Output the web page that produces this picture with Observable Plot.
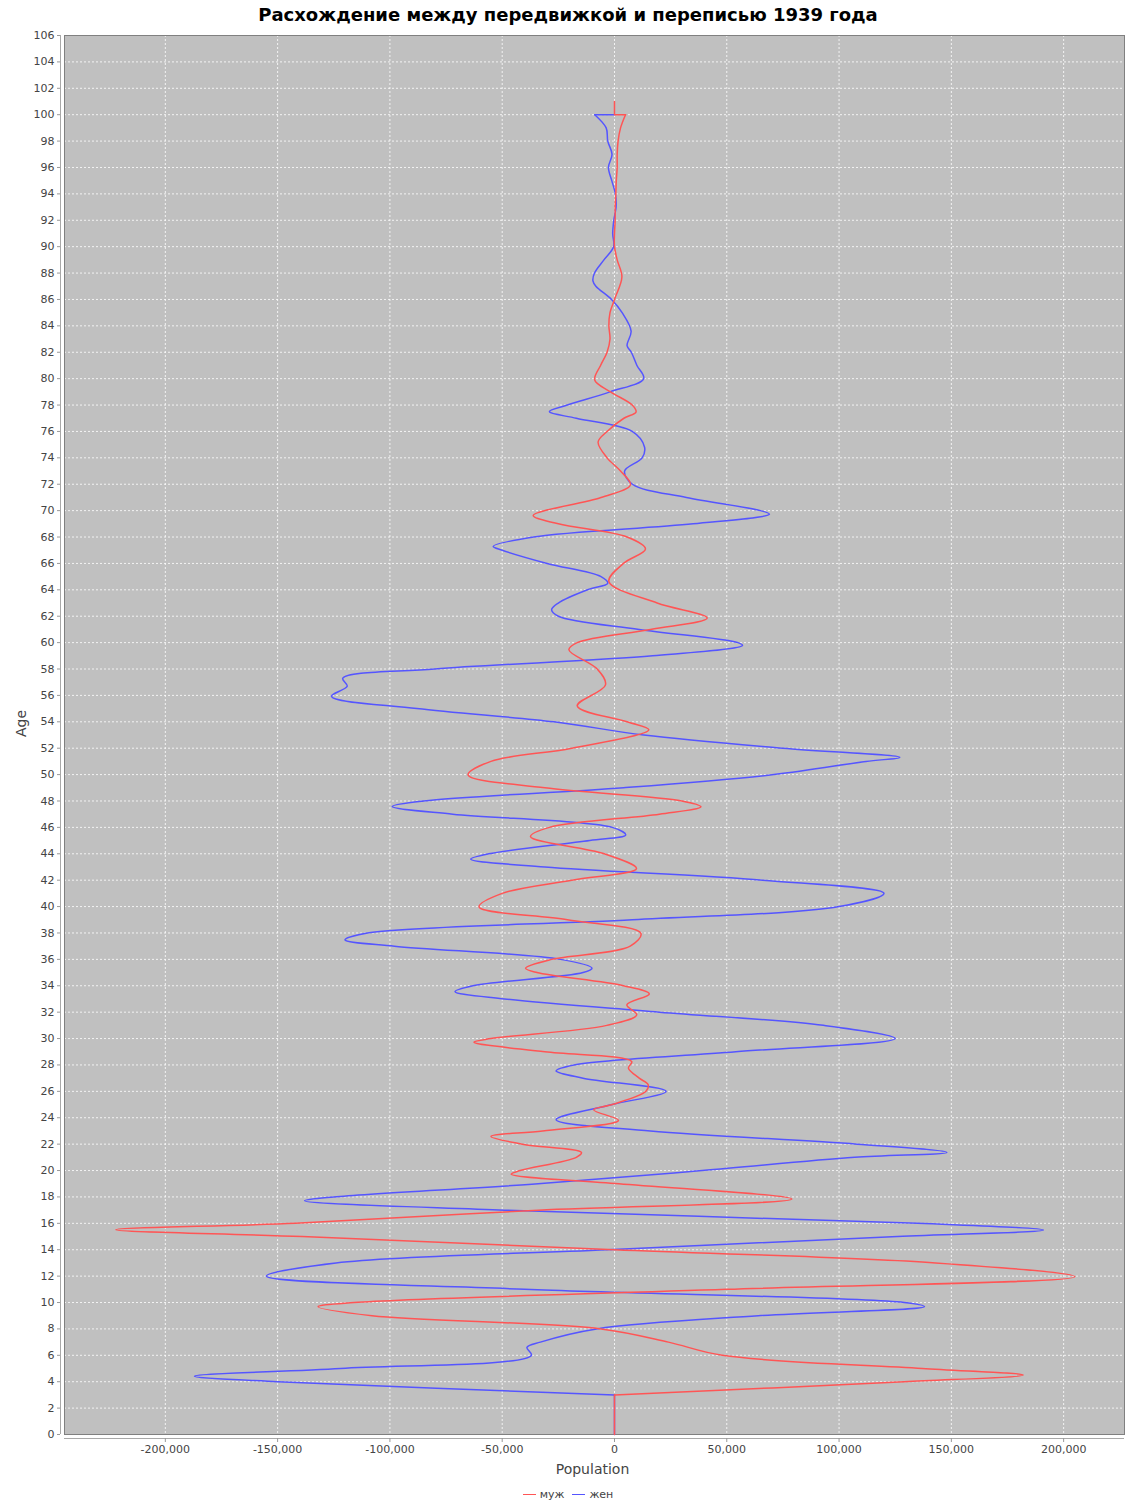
<!DOCTYPE html>
<html>
<head>
<meta charset="utf-8">
<script src="https://cdn.jsdelivr.net/npm/d3@7"></script>
<script src="https://cdn.jsdelivr.net/npm/@observablehq/plot@0.6"></script>
<style>
  body { margin: 0; background: #fff; font-family: "DejaVu Sans", sans-serif; }
  #title { height: 28px; line-height: 30px; text-align: center; font-weight: bold; font-size: 18px; color: #000; }
  #chart svg { display: block; }
  #legend { height: 25px; display: flex; justify-content: center; align-items: center; font-size: 11px; color: #444; }
  .item { display: flex; align-items: center; margin: 0 4px; }
  .sw { width: 13px; height: 1.5px; margin-right: 4px; }
</style>
</head>
<body>
<div id="title">Расхождение между передвижкой и переписью 1939 года</div>
<div id="chart"></div>
<div id="legend"></div>
<script>
// ---- data (population difference, thousands) ----
const seriesNames = ["муж", "жен"];
const seriesColors = ["#ff5555", "#5555ff"];

const ageTicks = d3.range(0, 107, 2);
const popTicks = [-200000, -150000, -100000, -50000, 0, 50000, 100000, 150000, 200000];

const maleAges = [3,4,4.5,5,6,7,8,9,9.69,10,11,11.96,13,14,15,15.52,16,17,17.84,19,19.73,20,21,21.37,22,22.58,23,23.8,24.6,25,26,26.5,27,27.76,28.26,29,29.73,30,31,31.8,32.55,33.38,34,35,35.33,36,37,37.96,39,39.98,41,42,42.88,44,45.3,46,47,47.56,48,49,49.98,51,52,53.4,54,55.2,56.8,58,59.46,60,61,61.86,63,64.63,66,67.1,68,69,69.63,71,71.95,73,74,75.2,76,77,77.47,78,79,79.9,81,82,83,84,85,86,87.7,89,90,91,92,93,94,95,96,97,98,99,100];
const maleValues = [0,129,182,137,48,24,-6,-108,-132,-116,50,205,143,0,-139,-222,-142,-34,79,2,-46,-42,-17,-14.7,-41,-55,-32,1.8,-9.3,-1,14,15,11,6.2,7.7,-31,-62.6,-55,-3.4,9.9,5.5,15.5,4,-34.5,-39.6,-28,7,11.8,-21,-60.3,-50,-19,9.8,-4.6,-37.4,-29,20,38.5,30,-31,-65.2,-55,-19,15.3,5.6,-16.6,-4,-7.7,-20.3,-16.6,16,41.3,19,-2.5,4,13.8,5.6,-25,-36.2,-6,7.1,2.7,-3.3,-7.3,-3.3,4.2,9.6,7.9,-1.8,-8.8,-6.2,-3.3,-2,-2.5,-2,0,3.3,1.2,0,0,0.3,0.3,0.6,0.8,1.2,1.2,1.6,2.7,4.9];

const femaleAges = [3,4,4.42,5,6,6.6,7,8,9,9.69,10,11,12,13,14,15,15.49,16,17,17.71,18,19,20,21,21.37,22,23,23.85,25,26,27,27.55,28,29,30,31,32,33,33.56,34,35,35.33,36,37,37.48,38,39,40,41,42,43,43.6,44,45,45.43,46,47,47.58,48,49,50,51,51.3,52,53,54,55,55.93,56.7,57.3,58,59,59.79,60,61,62,62.49,63,64,64.5,65,66,67,67.28,68,69,69.73,70,71,72,73,74,74.8,76,77,77.5,78,79,80,81,82,82.5,83.6,85,86,87,87.4,88,89,90,91,92,93,94,95,96,97,98,99,100];
const femaleValues = [0,-150,-187,-122,-37,-39,-33,-8,64,138,129,-40,-155,-124,-3,126,191,135,-49,-138,-125,-34,39,107,148,108,16,-26,-1,23,-14,-26,-18,54,125,93,20,-49,-71,-63,-14,-10,-24,-98,-120,-110,8,100,120,66,-31,-64,-56,-11,5,-1,-72,-99,-85,4,71,112,127,75,13,-27,-88,-126,-119,-121,-80,17,57,55,11,-25,-28,-25,-12,-3,-6,-30,-50,-54,-36,35,69,65,32,8,4.5,12.3,13.4,7.9,-17,-29,-21,-2,13,10,7.5,5.6,7.4,3.4,-1.3,-8.3,-9.6,-8.9,-4.7,-0.4,-0.8,-0.3,0.7,0.4,-1.2,-2.7,-1.1,-3,-3.7,-8.8];

// straight pieces at the ends of the series
const headAges = [0, 3];
const headValues = [0, 0];
const maleTailAges = [100, 100, 101];
const maleTailValues = [4.9, 0, 0];
const femaleTailAges = [100, 100];
const femaleTailValues = [-8.8, 0];

const xDomain = [-244900, 227100];
const yDomain = [0, 106];

const rows = (ages, vals) => ages.map((a, i) => ({age: a, v: vals[i] * 1000}));
const fmt = d => (d < 0 ? "-" : "") + d3.format(",")(Math.abs(d));

const lineOpts = (color, curve) => ({x: "v", y: "age", stroke: color, strokeWidth: 1.5, curve});

const chart = Plot.plot({
  width: 1136,
  height: 1454,
  marginLeft: 60,
  marginRight: 12,
  marginTop: 7,
  marginBottom: 44,
  insetLeft: 4,
  insetBottom: 4,
  x: {domain: xDomain},
  y: {domain: yDomain},
  style: {fontFamily: "DejaVu Sans", fontSize: "11px", background: "white", overflow: "visible"},
  marks: [
    Plot.frame({fill: "#c0c0c0", insetLeft: 4, insetBottom: 4}),
    Plot.gridX(popTicks, {stroke: "#ffffff", strokeOpacity: 0.8, strokeDasharray: "2,2", insetBottom: 4}),
    Plot.gridY(ageTicks, {stroke: "#ffffff", strokeOpacity: 0.8, strokeDasharray: "2,2", insetLeft: 4}),
    Plot.frame({stroke: "#808080", insetLeft: 4, insetBottom: 4}),
    Plot.ruleX([xDomain[0]], {dx: -4, stroke: "#a8a8a8", insetBottom: 4}),
    Plot.ruleY([yDomain[0]], {dy: 4, stroke: "#a8a8a8", insetLeft: 4}),
    Plot.axisY(ageTicks, {tickSize: 3, tickPadding: 3, fill: "#444", stroke: "#999", label: null}),
    Plot.axisX(popTicks, {tickSize: 4, tickPadding: 3, tickFormat: fmt, fill: "#444", stroke: "#999", label: null}),
    Plot.text(["Population"], {frameAnchor: "bottom", dy: 31, lineAnchor: "middle", fontSize: 14, fill: "#444"}),
    Plot.text(["Age"], {frameAnchor: "left", dx: -39, rotate: -90, fontSize: 14, fill: "#444"}),
    // жен (drawn first)
    Plot.line(rows(headAges, headValues), lineOpts(seriesColors[1], "linear")),
    Plot.line(rows(femaleAges, femaleValues), lineOpts(seriesColors[1], "catmull-rom")),
    Plot.line(rows(femaleTailAges, femaleTailValues), lineOpts(seriesColors[1], "linear")),
    // муж (on top)
    Plot.line(rows(headAges, headValues), lineOpts(seriesColors[0], "linear")),
    Plot.line(rows(maleAges, maleValues), lineOpts(seriesColors[0], "catmull-rom")),
    Plot.line(rows(maleTailAges, maleTailValues), lineOpts(seriesColors[0], "linear"))
  ]
});
document.getElementById("chart").appendChild(chart);

const legend = document.getElementById("legend");
seriesNames.forEach((name, i) => {
  const item = document.createElement("div");
  item.className = "item";
  const sw = document.createElement("div");
  sw.className = "sw";
  sw.style.background = seriesColors[i];
  const label = document.createElement("span");
  label.textContent = name;
  item.appendChild(sw);
  item.appendChild(label);
  legend.appendChild(item);
});
</script>
</body>
</html>
